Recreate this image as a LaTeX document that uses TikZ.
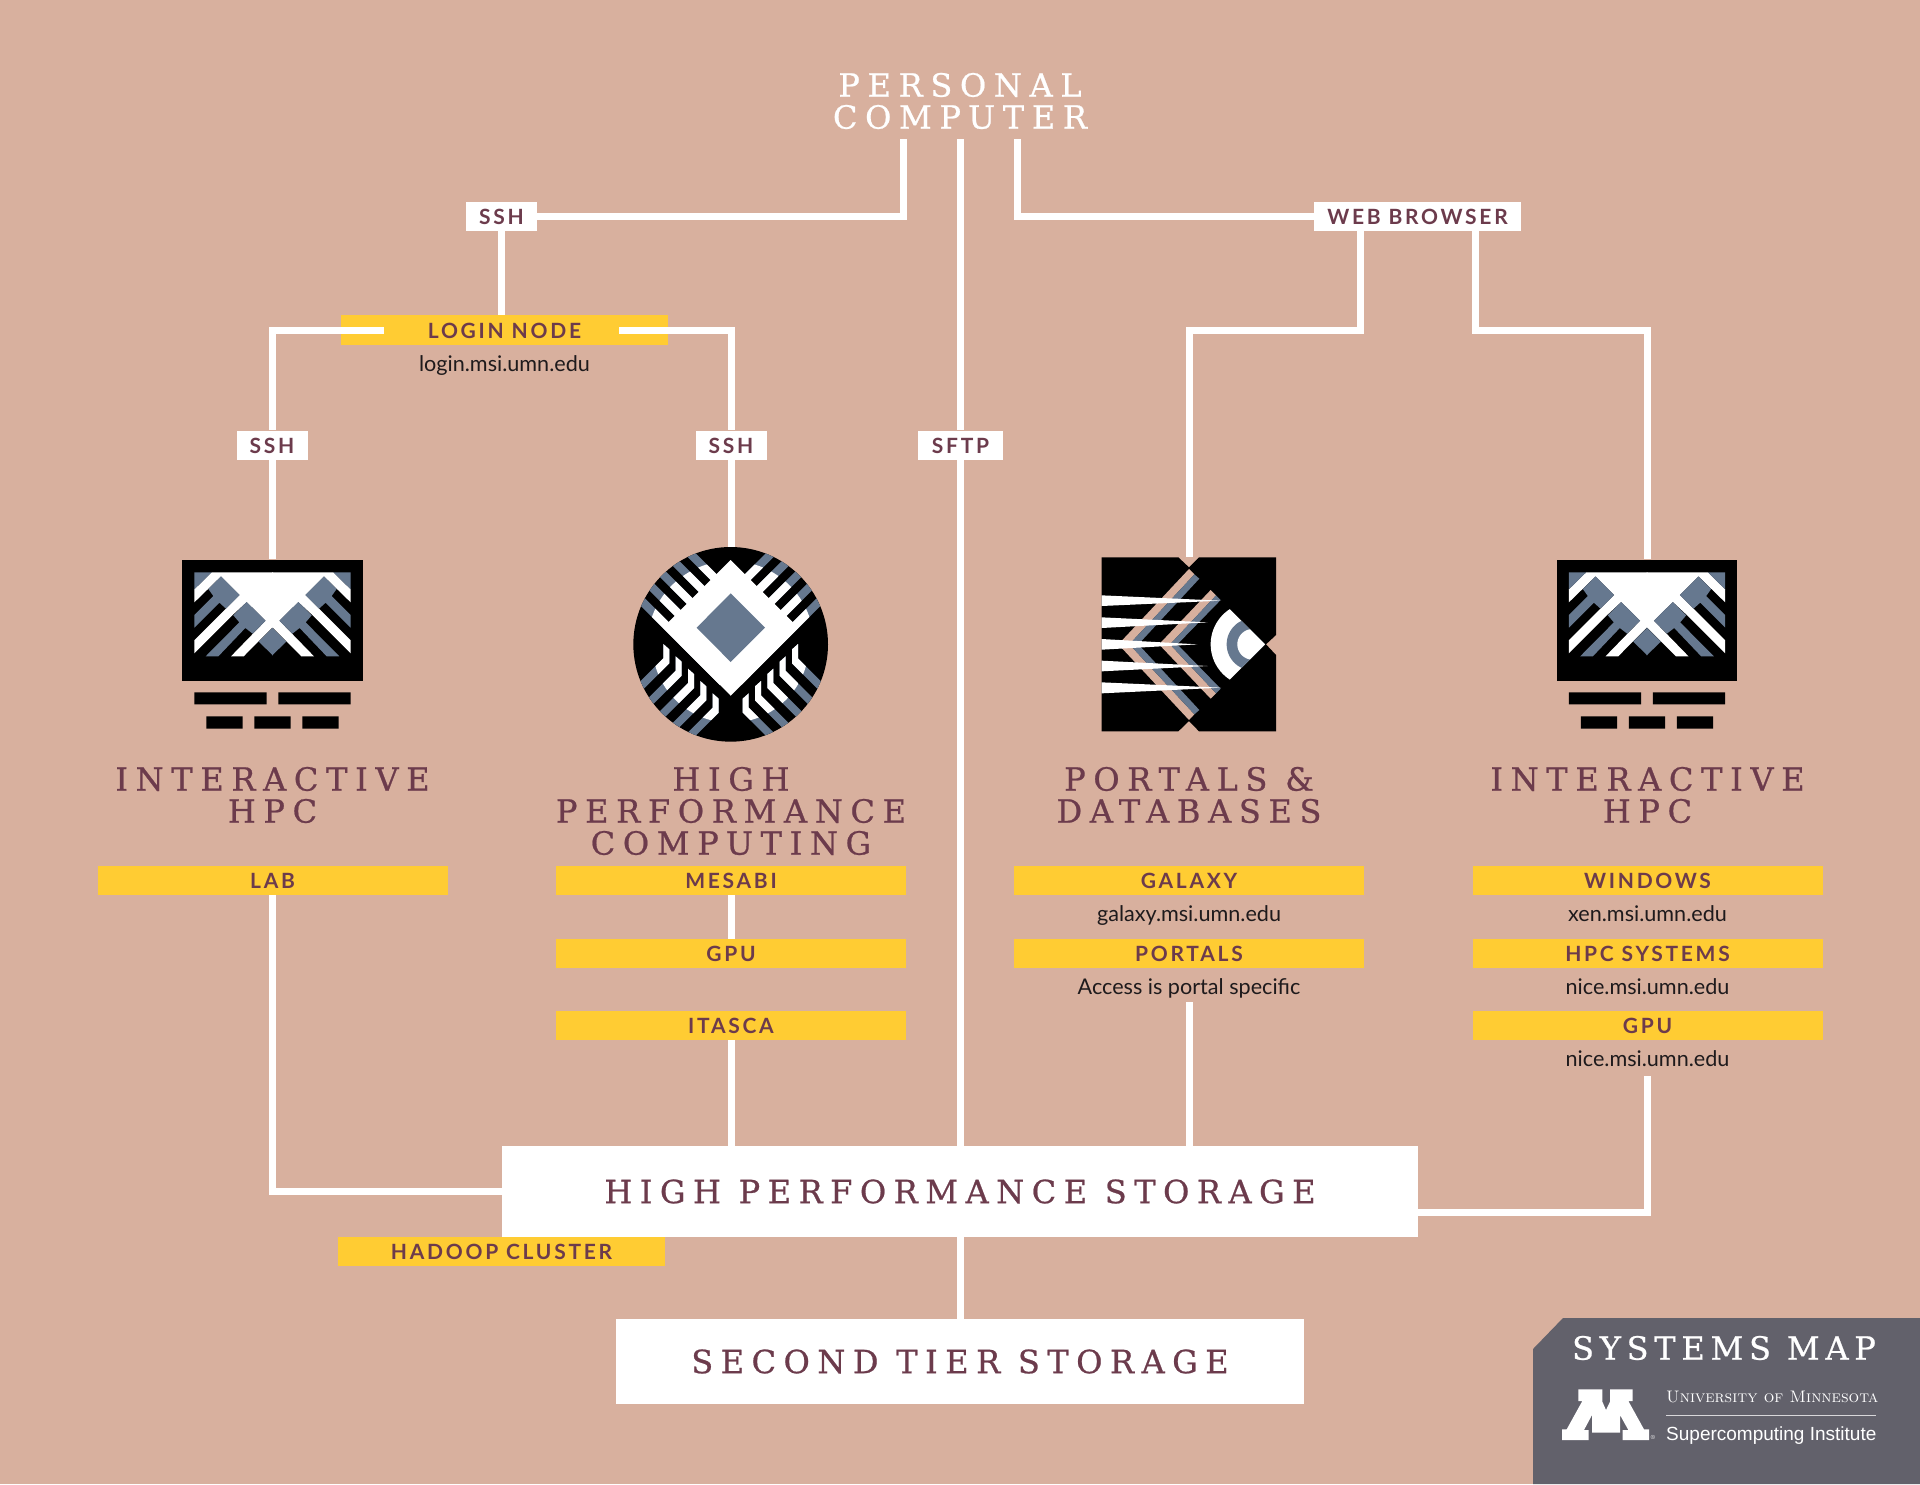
\documentclass[tikz,border=0pt]{standalone}
\usepackage{fontspec}
\setsansfont{Lato}
\newfontfamily\slabfont[FakeBold=0.7]{DejaVu Serif}
\newfontfamily\labelfont{Lato}
\newfontfamily\helvfont{Liberation Sans}
\definecolor{bgc}{HTML}{D8B09E}
\definecolor{steel}{HTML}{66788F}
\definecolor{gold}{HTML}{FFCC33}
\definecolor{maroon}{HTML}{6C3B4C}
\definecolor{panel}{HTML}{62616B}
\definecolor{ink}{HTML}{1E1A1C}
\pgfdeclarelayer{under}
\pgfsetlayers{under,main}
\tikzset{
  x=1pt,y=-1pt,
  wire/.style={draw=white,line width=7pt,line cap=butt,line join=miter},
  tagbox/.style={fill=white,inner sep=0pt,minimum height=29pt,text=maroon,text height=16.5pt,text depth=0pt,
     font=\labelfont\bfseries\fontsize{21}{22}\selectfont\addfontfeature{LetterSpace=13}},
  goldbar/.style={fill=gold,inner sep=0pt,minimum height=29.5pt,minimum width=350pt,text=maroon,text height=16pt,text depth=0pt,
     font=\labelfont\bfseries\fontsize{21}{22}\selectfont\addfontfeature{LetterSpace=13}},
  addr/.style={inner sep=0pt,text=ink,text height=16pt,text depth=5pt,font=\labelfont\fontsize{21.6}{22}\selectfont},
  heading/.style={inner sep=0pt,align=center,text=maroon,font=\slabfont\fontsize{32}{32}\selectfont\addfontfeature{LetterSpace=24}},
  storebox/.style={fill=white,inner sep=0pt,text=maroon,font=\slabfont\fontsize{32}{32}\selectfont\addfontfeature{LetterSpace=23.5}},
  zoomed/.style={x=0.33333pt,y=-0.33333pt},
  iconhole/.style={inner sep=0pt,draw=none},
}
\newcommand{\monhalf}{%
  \fill[white] (155,127)--(339,127)--(339,293)--(337.5,292)--(251,379)--(213,379)--(317,272)--(260,216)--(220,253)--(103,370)--(103,331)--(239,195)--(183,139)--(103,217)--(103,178)--cycle;
  \fill[steel] (103,127)--(155,127)--(103,178)--cycle;
  \fill[steel] (183,139)--(239,195)--(198,236)--(178,218)--(103,293)--(103,255)--(160,198)--(145,177)--cycle;
  \fill[steel] (260,216)--(317,272)--(278,311)--(256,294)--(175,379)--(137,379)--(238,277)--(220,256)--cycle;
  \fill[steel] (338.5,293)--(338.5,376)--(296,335)--cycle;
}
\newcommand{\monitoricon}{%
  \fill[black] (67,90) rectangle (608,452);
  \monhalf
  \begin{scope}[xshift=225pt,xscale=-1]\monhalf\end{scope}
  \fill[black] (103,487) rectangle (320,523) (355,487) rectangle (572,523)
     (139,559) rectangle (248,596) (283,559) rectangle (392,596) (427,559) rectangle (536,596);
}
\newcommand{\lowerstripes}[1]{%
  \foreach \k in {0,1,2,3,4}{%
    \begin{scope}[shift={(37*\k,37*\k)}]
      \fill[#1] (130,342)--(148,358)--(148,400)--(58,490)--(40,475)--(130,385)--cycle;
    \end{scope}}%
}
\newcommand{\chipside}{%
  \begin{scope}
    \clip (332,343) circle[radius=292];
    \foreach \c in {-139.6,-67.8,4,75.8,147.6}{%
      \fill[steel] (40,{40+\c-17.4}) -- (300,{300+\c-17.4}) -- (300,{300+\c+17.4}) -- (40,{40+\c+17.4}) -- cycle;}
    \lowerstripes{steel}
  \end{scope}
  \begin{scope}
    \clip (332,343) circle[radius=250];
    \foreach \c in {-139.6,-67.8,4,75.8,147.6}{%
      \fill[white] (40,{40+\c-17.4}) -- (300,{300+\c-17.4}) -- (300,{300+\c+17.4}) -- (40,{40+\c+17.4}) -- cycle;}
  \end{scope}
  \begin{scope}
    \clip (332,343) circle[radius=235];
    \lowerstripes{white}
  \end{scope}
}
\newcommand{\chipicon}{%
  \fill[black] (332,343) circle[radius=292];
  \chipside
  \begin{scope}[xshift=221.333pt,xscale=-1]\chipside\end{scope}
  \fill[white] (332,90)--(535,293)--(332,497)--(129,293)--cycle;
  \fill[steel] (332,190)--(435,293)--(332,396)--(230,293)--cycle;
}
\newcommand{\portalicon}{%
  \fill[black] (35,52)--(265,52)--(297,82)--(327,52)--(558,52)--(558,285)--(528,313)--(558,345)--(558,574)--(327,574)--(297,543)--(265,574)--(35,574)--cycle;
  \fill[bgc] (85,313)--(297,87)--(313,103)--(118,313)--(313,523)--(297,540)--cycle;
  \fill[steel] (118,313)--(313,103)--(328,116)--(145,313)--(328,510)--(313,523)--cycle;
  \fill[bgc] (207,313)--(362,150)--(378,166)--(240,313)--(378,460)--(362,476)--cycle;
  \fill[steel] (240,313)--(378,166)--(392,180)--(262,313)--(392,446)--(378,460)--cycle;
  \fill[white] (35,166)--(393,182)--(35,198)--cycle;
  \fill[white] (35,232)--(353,247)--(35,264)--cycle;
  \fill[white] (35,297)--(322,313)--(35,329)--cycle;
  \fill[white] (35,362)--(353,378)--(35,394)--cycle;
  \fill[white] (35,427)--(393,443)--(35,460)--cycle;
  \fill[white] (525,313)--plot[domain=123:237,samples=40]({488+126*cos(\x)},{313+126*sin(\x)})--cycle;
  \fill[steel] (525,313)--plot[domain=115.4:244.6,samples=40]({488+78*cos(\x)},{313+78*sin(\x)})--cycle;
  \fill[white] (525,313)--plot[domain=100.3:259.7,samples=40]({488+46*cos(\x)},{313+46*sin(\x)})--cycle;
}
\begin{document}
\begin{tikzpicture}
\useasboundingbox (0,0) rectangle (1920,1484);
\begin{pgfonlayer}{under}
  \fill[bgc] (0,0) rectangle (1920,1484);
\end{pgfonlayer}

% panel
\fill[panel] (1533,1484)--(1533,1349)--(1563,1318)--(1920,1318)--(1920,1484)--cycle;
\node[inner sep=0pt,text=white,font=\slabfont\fontsize{32}{32}\selectfont\addfontfeature{LetterSpace=18}] (sysmap) at (1724,1348) {SYSTEMS MAP};
\begin{scope}[shift={(1520,1300)},zoomed]
  \fill[white] (175,268)--(247,268)--(247,305)--(258,330)--(270,305)--(270,268)--(338,268)--(338,303)--(325,303)--(372,388)--(387,388)--(387,420)--(308,420)--(308,390)--(325,390)--(300,345)--(300,398)--(216,398)--(216,345)--(192,390)--(206,390)--(206,420)--(126,420)--(126,388)--(140,388)--(187,303)--(175,303)--cycle;
\end{scope}
\node[inner sep=0pt,text=white,font=\fontsize{6}{6}\selectfont] (regmark) at (1653,1437) {®};
\node[inner sep=0pt,text=white,anchor=base west,font=\rmfamily\fontsize{16.7}{20}\selectfont] (umn) at (1666,1402) {\scshape University of Minnesota};
\draw[white!75!panel,line width=1pt] (umn.south west |- 0,1415.7) coordinate (ruleA) -- (1876,1415.7) coordinate (ruleB);
\node[inner sep=0pt,text=white,anchor=base west,font=\helvfont\fontsize{19}{20}\selectfont] (sci) at (1666,1440) {Supercomputing Institute};

% top text
\node[heading,text=white,font=\slabfont\fontsize{32}{32}\selectfont\addfontfeature{LetterSpace=24}] (pc) at (960,101) {PERSONAL\\COMPUTER};
\coordinate (pcL) at (903,139);
\coordinate (pcC) at (960.5,139);
\coordinate (pcR) at (1017.5,139);

% tags
\node[tagbox,minimum width=71pt] (sshA) at (501.5,216) {SSH};
\node[tagbox,minimum width=207pt] (web) at (1417.5,216) {WEB BROWSER};
\node[tagbox,minimum width=71pt] (sshB) at (272,445) {SSH};
\node[tagbox,minimum width=71pt] (sshC) at (731,445) {SSH};
\node[tagbox,minimum width=85pt] (sftp) at (960.5,445) {SFTP};

% login
\node[goldbar,minimum width=327pt] (login) at (504.5,330) {LOGIN NODE};
\node[addr] (loginaddr) at (504.5,366.4) {login.msi.umn.edu};
\coordinate (loginL) at (384,330);
\coordinate (loginR) at (619,330);

% columns
\node[goldbar] (lab) at (272.5,880.5) {LAB};
\node[goldbar] (mesabi) at (731,880.5) {MESABI};
\node[goldbar] (gpuA) at (731,953.5) {GPU};
\node[goldbar] (itasca) at (731,1025.5) {ITASCA};
\node[goldbar] (galaxy) at (1189,880.5) {GALAXY};
\node[addr] (galaxyaddr) at (1189,916.4) {galaxy.msi.umn.edu};
\node[goldbar] (portals) at (1189,953.5) {PORTALS};
\node[addr] (portalsaddr) at (1189,989.4) {Access is portal specific};
\node[goldbar] (windows) at (1647.5,880.5) {WINDOWS};
\node[addr] (xen) at (1647.5,916.4) {xen.msi.umn.edu};
\node[goldbar] (hpcsys) at (1647.5,953.5) {HPC SYSTEMS};
\node[addr] (nicea) at (1647.5,989.4) {nice.msi.umn.edu};
\node[goldbar] (gpuB) at (1647.5,1025.5) {GPU};
\node[addr] (niceb) at (1647.5,1061.4) {nice.msi.umn.edu};

% headings
\node[heading] (hA) at (272.5,795) {INTERACTIVE\\HPC};
\node[heading] (hB) at (731,811) {HIGH\\PERFORMANCE\\COMPUTING};
\node[heading] (hC) at (1189,795) {PORTALS \&\\DATABASES};
\node[heading] (hD) at (1647.5,795) {INTERACTIVE\\HPC};

% storage
\node[storebox,minimum width=916pt,minimum height=91pt] (hps) at (960,1191.5) {HIGH PERFORMANCE STORAGE};
\node[storebox,minimum width=688pt,minimum height=85pt] (tier) at (960,1361.5) {SECOND TIER STORAGE};
\node[goldbar,minimum width=327pt] (hadoop) at (501.5,1251.5) {HADOOP CLUSTER};

% icons
\node[iconhole,minimum width=180pt,minimum height=121pt] (monA) at (272.5,620) {};
\node[iconhole,minimum width=195pt,minimum height=195pt] (chip) at (730.7,644.5) {};
\node[iconhole,minimum width=174pt,minimum height=174pt] (port) at (1188,644) {};
\node[iconhole,minimum width=180pt,minimum height=121pt] (monB) at (1646.5,620) {};
\begin{scope}[shift={(160,530)},zoomed]\monitoricon\end{scope}
\begin{scope}[shift={(1534.5,530)},zoomed]\monitoricon\end{scope}
\begin{scope}[shift={(620,530)},zoomed]\chipicon\end{scope}
\begin{scope}[shift={(1090,540)},zoomed]\portalicon\end{scope}

% wires
\coordinate (webL) at (1360.5,230);
\coordinate (webR) at (1475.5,230);
\coordinate (labB) at (272,895);
\draw[wire] (pcL) |- (sshA.east);
\draw[wire] (pcR) |- (web.west);
\draw[wire] (pcC) -- (sftp.north);
\draw[wire] (sftp.south) -- (hps.north -| sftp);
\draw[wire] (hps.south -| sftp) -- (tier.north -| sftp);
\draw[wire] (sshA.south) -- (login.north -| sshA);
\draw[wire] (loginL) -| (sshB.north);
\draw[wire] (loginR) -| (sshC.north);
\draw[wire] (sshB.south) -- (monA.north -| sshB);
\draw[wire] (sshC.south) -- (chip.north -| sshC);
\draw[wire] (webL) |- (1189,330) -- (port.north -| 1189,0);
\draw[wire] (webR) |- (1647.5,330) -- (monB.north -| 1647.5,0);
\draw[wire] (mesabi.south) -- (gpuA.north);
\draw[wire] (itasca.south) -- (hps.north -| itasca);
\draw[wire] (portalsaddr.south -| portals) ++(0,2) -- (hps.north -| portals);
\draw[wire] (labB) |- (hps.west);
\draw[wire] (niceb.south -| gpuB) ++(0,4) |- (hps.east |- 0,1212);
\end{tikzpicture}
\end{document}
